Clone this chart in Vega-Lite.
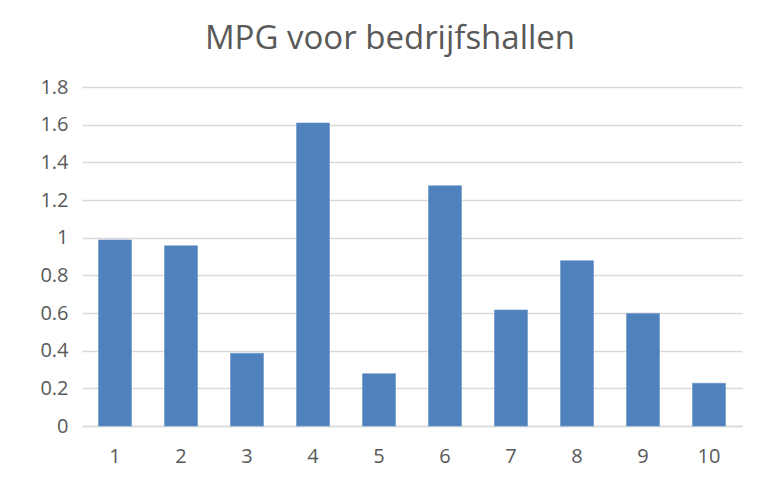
{
  "$schema": "https://vega.github.io/schema/vega-lite/v6.json",
  "width": 660,
  "height": 339,
  "autosize": {"type": "none"},
  "padding": {"left": 82, "top": 87, "right": 18, "bottom": 60},
  "background": "white",
  "title": {
    "text": "MPG voor bedrijfshallen",
    "anchor": "middle",
    "frame": "group",
    "dx": -22,
    "offset": -5,
    "baseline": "alphabetic",
    "font": "Open Sans",
    "fontSize": 33,
    "fontWeight": "normal",
    "color": "#595959"
  },
  "data": {
    "values": [
      {"hal": "1", "mpg": 0.988},
      {"hal": "2", "mpg": 0.957},
      {"hal": "3", "mpg": 0.386},
      {"hal": "4", "mpg": 1.609},
      {"hal": "5", "mpg": 0.278},
      {"hal": "6", "mpg": 1.276},
      {"hal": "7", "mpg": 0.616},
      {"hal": "8", "mpg": 0.878},
      {"hal": "9", "mpg": 0.598},
      {"hal": "10", "mpg": 0.227}
    ]
  },
  "mark": {"type": "bar", "color": "#4F81BD", "stroke": "#6a94c8", "strokeWidth": 0.6},
  "encoding": {
    "x": {
      "field": "hal",
      "type": "ordinal",
      "sort": null,
      "scale": {"paddingInner": 0.5, "paddingOuter": 0.25},
      "axis": {
        "title": null,
        "labelAngle": 0,
        "labelFont": "Open Sans",
        "labelFontSize": 20,
        "labelColor": "#595959",
        "labelPadding": 20,
        "ticks": false,
        "domainColor": "#d9d9d9",
        "domainWidth": 1.5,
        "grid": false
      }
    },
    "y": {
      "field": "mpg",
      "type": "quantitative",
      "scale": {"domain": [0, 1.8], "nice": false},
      "axis": {
        "title": null,
        "values": [0, 0.2, 0.4, 0.6, 0.8, 1, 1.2, 1.4, 1.6, 1.8],
        "format": "~g",
        "labelFont": "Open Sans",
        "labelFontSize": 20,
        "labelColor": "#595959",
        "labelPadding": 14,
        "ticks": false,
        "domain": false,
        "grid": true,
        "gridColor": "#d9d9d9",
        "gridWidth": 1.5
      }
    }
  },
  "config": {"view": {"stroke": null}}
}
